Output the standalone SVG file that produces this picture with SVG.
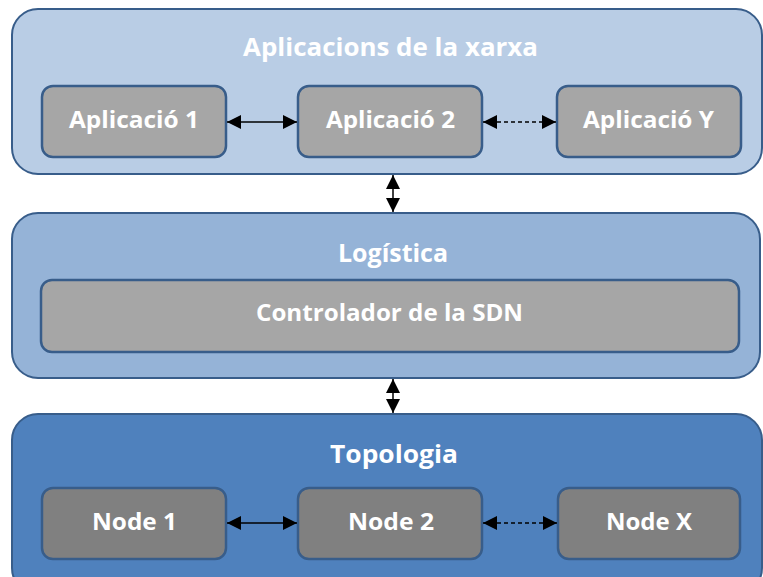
<svg xmlns="http://www.w3.org/2000/svg" width="763" height="577" viewBox="0 0 763 577">
<style>
.outer{stroke:#385D8A;stroke-width:2}
.inner{stroke:#385D8A;stroke-width:2.5}
.t{font-family:"Open Sans","Liberation Sans",sans-serif;font-weight:bold;fill:#FFFFFF;text-anchor:middle}
.title{font-size:25px}
.lbl{font-size:23.5px}
.c{stroke:#000;stroke-width:1.5;fill:none}
.d{stroke-dasharray:4 3}
</style>
<defs>
<marker id="ah" viewBox="0 0 10 10" refX="10" refY="5" markerWidth="14" markerHeight="14" markerUnits="userSpaceOnUse" orient="auto-start-reverse">
<path d="M0,0 L10,5 L0,10 Z" fill="#000"/>
</marker>
</defs>
<g id="layer-apps">
<rect class="outer" x="12" y="9" width="750" height="165" rx="26" fill="#B9CDE5"/>
<text class="t title" x="390.5" y="56" textLength="295" lengthAdjust="spacingAndGlyphs">Aplicacions de la xarxa</text>
</g>
<g id="app1">
<rect class="inner" x="42" y="86" width="184" height="71" rx="11" fill="#A6A6A6"/>
<text class="t lbl" x="134" y="127.5" textLength="130" lengthAdjust="spacingAndGlyphs">Aplicació 1</text>
</g>
<g id="app2">
<rect class="inner" x="298" y="86" width="184" height="71" rx="11" fill="#A6A6A6"/>
<text class="t lbl" x="390.5" y="127.5" textLength="129" lengthAdjust="spacingAndGlyphs">Aplicació 2</text>
</g>
<g id="appY">
<rect class="inner" x="557" y="86" width="184" height="71" rx="11" fill="#A6A6A6"/>
<text class="t lbl" x="648.5" y="127.5" textLength="131" lengthAdjust="spacingAndGlyphs">Aplicació Y</text>
</g>
<g id="layer-logistica">
<rect class="outer" x="12" y="213" width="748" height="165" rx="26" fill="#95B3D7"/>
<text class="t title" x="393" y="262" textLength="110" lengthAdjust="spacingAndGlyphs">Logística</text>
</g>
<g id="controlador">
<rect class="inner" x="41" y="280" width="698" height="72" rx="11" fill="#A6A6A6"/>
<text class="t lbl" x="389.5" y="321" textLength="267" lengthAdjust="spacingAndGlyphs">Controlador de la SDN</text>
</g>
<g id="layer-topologia">
<rect class="outer" x="12" y="414" width="750" height="180" rx="26" fill="#4F81BD"/>
<text class="t title" x="394" y="463" textLength="128" lengthAdjust="spacingAndGlyphs">Topologia</text>
</g>
<g id="node1">
<rect class="inner" x="42" y="488" width="184" height="71" rx="11" fill="#808080"/>
<text class="t lbl" x="134.5" y="529.5" textLength="85" lengthAdjust="spacingAndGlyphs">Node 1</text>
</g>
<g id="node2">
<rect class="inner" x="298" y="488" width="184" height="71" rx="11" fill="#808080"/>
<text class="t lbl" x="391" y="529.5" textLength="86" lengthAdjust="spacingAndGlyphs">Node 2</text>
</g>
<g id="nodeX">
<rect class="inner" x="558" y="488" width="182" height="71" rx="11" fill="#808080"/>
<text class="t lbl" x="649" y="529.5" textLength="86" lengthAdjust="spacingAndGlyphs">Node X</text>
</g>
<g id="connectors">
<line class="c" x1="227" y1="122" x2="297" y2="122" marker-start="url(#ah)" marker-end="url(#ah)"/>
<line class="c d" x1="483" y1="122" x2="556" y2="122" marker-start="url(#ah)" marker-end="url(#ah)"/>
<line class="c" x1="393" y1="175" x2="393" y2="212" marker-start="url(#ah)" marker-end="url(#ah)"/>
<line class="c" x1="393" y1="379" x2="393" y2="413" marker-start="url(#ah)" marker-end="url(#ah)"/>
<line class="c" x1="227" y1="523" x2="297" y2="523" marker-start="url(#ah)" marker-end="url(#ah)"/>
<line class="c d" x1="483" y1="523" x2="557" y2="523" marker-start="url(#ah)" marker-end="url(#ah)"/>
</g>
</svg>
